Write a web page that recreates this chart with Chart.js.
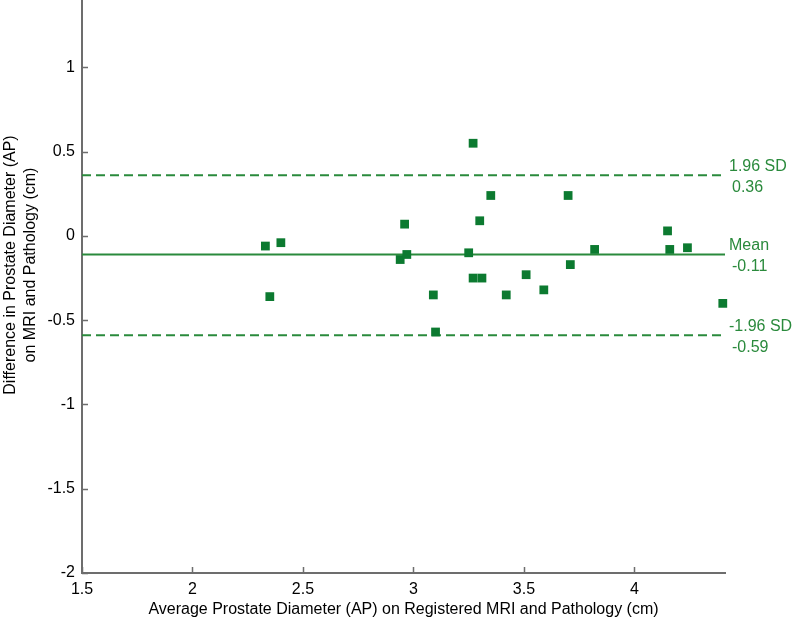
<!DOCTYPE html>
<html lang="en">
<head>
  <meta charset="UTF-8">
  <title>Bland-Altman - Prostate Diameter (AP)</title>
  <script src="https://cdn.jsdelivr.net/npm/chart.js"></script>
  <style>
    body { margin: 0; background: #fff; }
    #wrap { width: 800px; height: 619px; }
  </style>
</head>
<body>
  <div id="wrap"><canvas id="baChart"></canvas></div>
  <script>
    // average of the two measurements (cm) and their difference (cm)
    const avgDiam = [2.33, 2.40, 2.35, 2.94, 2.96, 2.97, 3.09, 3.10, 3.25, 3.27, 3.27, 3.30,
                     3.31, 3.35, 3.42, 3.51, 3.59, 3.70, 3.71, 3.82, 4.15, 4.16, 4.24, 4.40];
    const diffDiam = [-0.06, -0.04, -0.36, -0.14, 0.07, -0.11, -0.35, -0.57, -0.10, 0.55, -0.25, 0.09,
                      -0.25, 0.24, -0.35, -0.23, -0.32, 0.24, -0.17, -0.08, 0.03, -0.08, -0.07, -0.40];

    // mean difference and limits of agreement
    const limitNames = ["1.96 SD", "Mean", "-1.96 SD"];
    const limitValues = [0.36, -0.11, -0.59];
    const limitText = ["0.36", "-0.11", "-0.59"];

    const xTicks = [1.5, 2, 2.5, 3, 3.5, 4];
    const yTicks = [-2, -1.5, -1, -0.5, 0, 0.5, 1];
    const xMin = 1.5, xMax = 4.41;
    const yMin = -2, yMax = 1.4;

    const yTitle = ["Difference in Prostate Diameter (AP)", "on MRI and Pathology (cm)"];

    const green = "#2a8a3c";
    const pointGreen = "#0c7a30";
    const axisGray = "#6d6d6d";
    const fontFamily = "Arial, 'Liberation Sans', sans-serif";
    const font16 = { family: fontFamily, size: 16 };

    const points = avgDiam.map((x, i) => ({ x: x, y: diffDiam[i] }));
    const lineData = v => [{ x: xMin, y: v }, { x: xMax, y: v }];

    // MATLAB style tick marks pointing into the plot
    const innerTicks = {
      id: "innerTicks",
      afterDraw(chart) {
        const { ctx, chartArea: a, scales } = chart;
        ctx.save();
        ctx.strokeStyle = axisGray;
        ctx.lineWidth = 1.5;
        ctx.beginPath();
        xTicks.forEach(v => {
          const px = Math.round(scales.x.getPixelForValue(v)) + 0.5;
          ctx.moveTo(px, a.bottom);
          ctx.lineTo(px, a.bottom - 6);
        });
        yTicks.forEach(v => {
          const py = Math.round(scales.y.getPixelForValue(v)) + 0.5;
          ctx.moveTo(a.left, py);
          ctx.lineTo(a.left + 6, py);
        });
        ctx.stroke();
        ctx.restore();
      }
    };

    // labels to the right of the mean / limit lines, and the y axis title
    const sideText = {
      id: "sideText",
      afterDraw(chart) {
        const { ctx, chartArea: a, scales } = chart;
        ctx.save();
        ctx.font = "16px " + fontFamily;
        ctx.textBaseline = "middle";
        ctx.fillStyle = green;
        ctx.textAlign = "left";
        limitValues.forEach((v, i) => {
          const py = scales.y.getPixelForValue(v);
          ctx.fillText(limitNames[i], a.right + 4, py - 9);
          ctx.fillText(limitText[i], a.right + 7, py + 12);
        });

        // y title sits a bit above the middle of the axis, as in the original
        ctx.fillStyle = "#000";
        ctx.textAlign = "center";
        ctx.translate(11, 265);
        ctx.rotate(-Math.PI / 2);
        yTitle.forEach((line, i) => ctx.fillText(line, 0, i * 19.5));
        ctx.restore();
      }
    };

    new Chart(document.getElementById("baChart"), {
      type: "scatter",
      data: {
        datasets: [
          {
            label: "Differences",
            data: points,
            pointStyle: "rect",
            pointRadius: 6.2,
            pointHoverRadius: 6.2,
            backgroundColor: pointGreen,
            borderColor: pointGreen,
            borderWidth: 0,
            clip: false
          },
          {
            label: "Mean",
            data: lineData(limitValues[1]),
            showLine: true,
            borderColor: green,
            borderWidth: 2,
            pointRadius: 0
          },
          {
            label: "+1.96 SD",
            data: lineData(limitValues[0]),
            showLine: true,
            borderColor: green,
            borderWidth: 2,
            borderDash: [9, 5],
            pointRadius: 0
          },
          {
            label: "-1.96 SD",
            data: lineData(limitValues[2]),
            showLine: true,
            borderColor: green,
            borderWidth: 2,
            borderDash: [9, 5],
            pointRadius: 0
          }
        ]
      },
      options: {
        responsive: true,
        maintainAspectRatio: false,
        animation: false,
        layout: { autoPadding: false, padding: { top: 0, right: 75, bottom: 0, left: 0 } },
        plugins: {
          legend: { display: false },
          tooltip: { enabled: false }
        },
        scales: {
          x: {
            type: "linear",
            min: xMin,
            max: xMax,
            afterBuildTicks: s => { s.ticks = xTicks.map(v => ({ value: v })); },
            afterFit: s => { s.height = 46; s.paddingLeft = 0; s.paddingRight = 0; },
            grid: { display: false, drawTicks: false },
            border: { display: true, color: axisGray, width: 2 },
            ticks: { color: "#000", font: font16, padding: 7, maxRotation: 0,
                     callback: v => String(v) },
            title: {
              display: true,
              text: "Average Prostate Diameter (AP) on Registered MRI and Pathology (cm)",
              color: "#000",
              font: font16,
              padding: { top: 0, bottom: 0 }
            }
          },
          y: {
            type: "linear",
            min: yMin,
            max: yMax,
            afterBuildTicks: s => { s.ticks = yTicks.map(v => ({ value: v })); },
            afterFit: s => { s.width = 82; s.paddingTop = 0; s.paddingBottom = 0; },
            grid: { display: false, drawTicks: false },
            border: { display: true, color: axisGray, width: 2 },
            ticks: { color: "#000", font: font16, padding: 7,
                     callback: v => String(v) },
            title: { display: false }
          }
        }
      },
      plugins: [innerTicks, sideText]
    });
  </script>
</body>
</html>
